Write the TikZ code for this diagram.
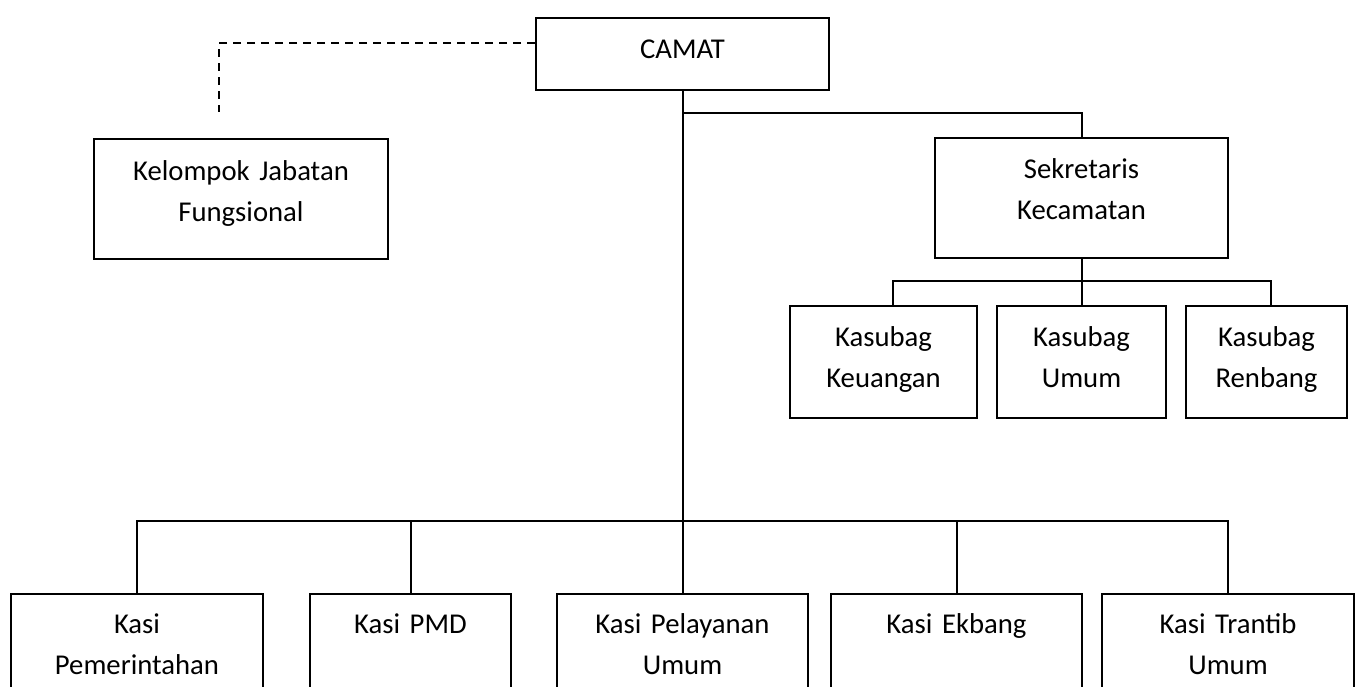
\documentclass[tikz,border=0pt]{standalone}
\usepackage{fontspec}
\setmainfont{Carlito}
\begin{document}
\begin{tikzpicture}[x=1pt,y=-1pt,
  orgbox/.style={draw, line width=2pt, rectangle, inner sep=0pt, align=center, anchor=north,
    font=\fontsize{28.7}{41.5}\selectfont},
  link/.style={line width=2pt},
  dashlink/.style={line width=2pt, dash pattern=on 8pt off 6pt}]
\clip (0,0) rectangle (1369,686);
\fill[white] (0,0) rectangle (1369,686);
% top
\node[orgbox, text width=293pt, text height=40pt, text depth=32pt] (camat) at (682.5,17) {CAMAT};
\node[orgbox, text width=294pt, text height=41pt, text depth=79pt] (kel) at (241,138) {Kelompok Jabatan\\Fungsional};
\node[orgbox, text width=293pt, text height=40pt, text depth=80pt] (sek) at (1081.5,137) {Sekretaris\\Kecamatan};
% kasubag
\node[orgbox, text width=187pt, text height=40pt, text depth=72pt] (keu) at (883.5,305) {Kasubag\\Keuangan};
\node[orgbox, text width=169pt, text height=40pt, text depth=72pt] (umu) at (1081.5,305) {Kasubag\\Umum};
\node[orgbox, text width=161pt, text height=40pt, text depth=72pt] (ren) at (1266.5,305) {Kasubag\\Renbang};
% kasi
\node[orgbox, text width=252pt, text height=39pt, text depth=80pt] (pem) at (137,593) {Kasi\\Pemerintahan};
\node[orgbox, text width=201pt, text height=39pt, text depth=80pt] (pmd) at (410.5,593) {Kasi PMD};
\node[orgbox, text width=251pt, text height=39pt, text depth=80pt] (pel) at (682.5,593) {Kasi Pelayanan\\Umum};
\node[orgbox, text width=251pt, text height=39pt, text depth=80pt] (ekb) at (956.5,593) {Kasi Ekbang};
\node[orgbox, text width=252pt, text height=39pt, text depth=80pt] (tra) at (1228,593) {Kasi Trantib\\Umum};
% coordinates
\coordinate (bus) at (682.5,521);
\coordinate (sbranch) at (682.5,113);
\coordinate (kbus) at (1081.5,281);
\coordinate (dend) at (219,112);
% connectors
\draw[link] (camat.south) -- (pel.north);
\draw[link] (sbranch) -| (sek.north);
\draw[link] (pem.north) |- (bus) -| (tra.north);
\draw[link] (pmd.north) -- (pmd.north |- bus);
\draw[link] (ekb.north) -- (ekb.north |- bus);
\draw[link] (sek.south) -- (kbus);
\draw[link] ([xshift=9.5pt]keu.north) |- (kbus) -| ([xshift=4.5pt]ren.north);
\draw[link] (umu.north) -- (kbus);
\draw[dashlink] ([yshift=11pt]camat.west) -| (dend);
\end{tikzpicture}
\end{document}
